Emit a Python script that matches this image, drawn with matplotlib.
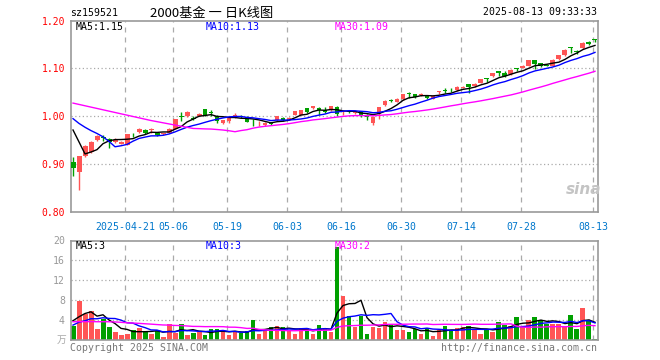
import numpy as np
import pandas as pd
import matplotlib
matplotlib.use('Agg')
import matplotlib.pyplot as plt

# daily candles, 2025-04-08 .. 2025-08-13
opens = [0.905, 0.884, 0.917, 0.926, 0.950, 0.956, 0.953, 0.947, 0.943, 0.940,
         0.961, 0.967, 0.972, 0.971, 0.965, 0.962, 0.965, 0.974, 0.999, 1.000,
         0.996, 1.001, 1.0146, 1.008, 1.000, 0.985, 0.990, 1.000, 1.001, 0.999,
         0.989, 0.985, 0.981, 0.986, 0.992, 0.996, 0.995, 1.0035, 1.0035, 1.0167,
         1.0167, 1.018, 1.0125, 1.0125, 1.019, 1.008, 1.010, 1.007, 1.0104, 1.001,
         0.985, 1.0056, 1.023, 1.034, 1.030, 1.035, 1.048, 1.046, 1.045, 1.042,
         1.037, 1.051, 1.055, 1.055, 1.054, 1.060, 1.067, 1.063, 1.070, 1.079,
         1.084, 1.094, 1.091, 1.0875, 1.099, 1.1015, 1.106, 1.117, 1.111, 1.108,
         1.106, 1.119, 1.127, 1.143, 1.137, 1.142, 1.156, 1.161]
highs = [0.914, 0.918, 0.940, 0.948, 0.961, 0.960, 0.955, 0.954, 0.949, 0.963,
         0.964, 0.976, 0.973, 0.976, 0.967, 0.966, 0.975, 0.995, 1.009, 1.010,
         1.000, 1.007, 1.016, 1.0125, 1.002, 0.993, 0.997, 1.007, 1.003, 1.001,
         0.995, 0.991, 0.987, 0.988, 1.001, 0.998, 0.999, 1.012, 1.014, 1.018,
         1.022, 1.020, 1.020, 1.022, 1.021, 1.014, 1.013, 1.011, 1.012, 1.004,
         1.000, 1.020, 1.033, 1.037, 1.038, 1.047, 1.051, 1.047, 1.048, 1.043,
         1.044, 1.053, 1.058, 1.058, 1.064, 1.064, 1.068, 1.069, 1.078, 1.080,
         1.091, 1.095, 1.095, 1.098, 1.101, 1.107, 1.118, 1.118, 1.112, 1.110,
         1.119, 1.128, 1.140, 1.144, 1.139, 1.155, 1.158, 1.162]
lows = [0.876, 0.846, 0.915, 0.924, 0.949, 0.949, 0.933, 0.944, 0.941, 0.939,
        0.957, 0.966, 0.963, 0.964, 0.958, 0.960, 0.964, 0.973, 0.990, 0.999,
        0.993, 1.000, 1.001, 1.000, 0.985, 0.983, 0.985, 0.996, 0.997, 0.987,
        0.980, 0.980, 0.980, 0.982, 0.991, 0.991, 0.993, 1.002, 1.002, 1.006,
        1.015, 1.002, 1.006, 1.011, 1.000, 1.002, 1.006, 1.005, 0.9986, 0.992,
        0.981, 0.995, 1.022, 1.029, 1.029, 1.034, 1.039, 1.039, 1.042, 1.035,
        1.036, 1.046, 1.048, 1.050, 1.053, 1.058, 1.0486, 1.062, 1.069, 1.071,
        1.083, 1.085, 1.083, 1.086, 1.094, 1.100, 1.104, 1.099, 1.103, 1.105,
        1.105, 1.118, 1.125, 1.133, 1.131, 1.141, 1.149, 1.155]
closes = [0.892, 0.917, 0.9375, 0.946, 0.959, 0.954, 0.947, 0.950, 0.947, 0.962,
          0.960, 0.974, 0.965, 0.972, 0.960, 0.965, 0.974, 0.994, 0.998, 1.009,
          0.995, 1.004, 1.002, 1.007, 0.990, 0.992, 0.996, 1.002, 0.999, 0.988,
          0.987, 0.986, 0.986, 0.984, 1.000, 0.992, 0.997, 1.011, 1.0125, 1.008,
          1.021, 1.0125, 1.008, 1.021, 1.0056, 1.009, 1.008, 1.008, 1.0035, 0.999,
          0.9986, 1.019, 1.032, 1.032, 1.037, 1.046, 1.046, 1.040, 1.046, 1.038,
          1.043, 1.052, 1.053, 1.054, 1.061, 1.061, 1.061, 1.068, 1.077, 1.078,
          1.090, 1.090, 1.084, 1.097, 1.098, 1.106, 1.117, 1.110, 1.104, 1.106,
          1.118, 1.127, 1.139, 1.142, 1.135, 1.1535, 1.150, 1.159]
# volume in 万
volumes = [2.87, 7.87, 5.2, 5.87, 2.2, 4.2, 2.6, 1.67, 1.0, 1.2,
           2.0, 2.47, 1.67, 1.27, 1.87, 0.6, 3.2, 1.47, 3.2, 1.07,
           1.47, 1.67, 1.07, 2.2, 2.2, 1.67, 1.07, 1.67, 1.47, 1.87,
           4.0, 1.27, 2.0, 2.6, 2.8, 2.6, 1.87, 1.27, 2.4, 2.4,
           1.27, 3.0, 2.4, 1.67, 18.7, 8.87, 4.8, 2.67, 4.9, 1.2,
           2.67, 2.5, 3.7, 3.3, 2.07, 2.07, 1.67, 2.2, 1.2, 2.5,
           0.8, 2.0, 2.8, 2.0, 2.5, 2.6, 2.8, 2.2, 1.2, 2.3,
           1.67, 3.67, 3.0, 2.8, 4.6, 2.8, 4.0, 4.6, 4.0, 3.3,
           3.3, 3.3, 2.6, 5.0, 2.2, 6.4, 4.0, 0.2]

# sessions before the window (only feed the moving averages)
prior_close = [1.001, 1.0215, 1.030, 1.043, 1.038, 1.031, 1.034, 1.031, 1.046, 1.044,
               1.058, 1.049, 1.056, 1.031, 1.036, 1.045, 1.065, 1.069, 1.080, 1.066,
               1.017, 1.0175, 1.016, 1.019, 1.024, 1.042, 1.0625, 0.926, 0.934]
prior_vol = [7.0, 5.5, 5.5, 3.0, 4.0, 3.0, 2.5, 3.5, 4.0, 3.5,
             4.5, 4.0, 3.5, 4.5, 3.0, 4.0, 3.5, 4.0, 3.5, 4.0,
             2.0, 2.3, 1.9, 2.2, 2.2, 3.9, 1.9, 4.2, 6.5]

date_idx = [9, 17, 26, 36, 45, 55, 65, 75, 87]
date_labels = ['2025-04-21', '05-06', '05-19', '06-03', '06-16',
               '06-30', '07-14', '07-28', '08-13']

RED = '#ff5555'
GREEN = '#00a000'
GRID = '#aaaaaa'
MONO = 'DejaVu Sans Mono'
FS = 7.1

o = np.array(opens); h = np.array(highs); l = np.array(lows); c = np.array(closes)
v = np.array(volumes)
n = len(c)
x = np.arange(n)
up = c >= o
cols = np.where(up, RED, GREEN)

npri = len(prior_close)
allc = pd.Series(prior_close + closes)
allv = pd.Series(prior_vol + volumes)
ma = {k: allc.rolling(k).mean().values[npri:] for k in (5, 10, 30)}
vma = {k: allv.rolling(k).mean().values[npri:] for k in (5, 10, 30)}

W, H = 660, 360
fig = plt.figure(figsize=(6.6, 3.6), dpi=100)

def rect(x0, y0, x1, y1):
    return [x0 / W, 1 - y1 / H, (x1 - x0) / W, (y1 - y0) / H]

def ftext(px, py, s, **kw):
    fig.text(px / W, 1 - py / H, s, **kw)

ax = fig.add_axes(rect(70.5, 20.5, 597.5, 212))
axv = fig.add_axes(rect(70.5, 240.5, 597.5, 340))
xl = (-0.42, 87.42)

for a in (ax, axv):
    a.set_xlim(*xl)
    for s in a.spines.values():
        s.set_color('#999999')
        s.set_linewidth(1.2)
    for d in date_idx:
        a.axvline(d - 0.33, color=GRID, lw=0.9, ls=(0, (4, 4)), zorder=0)

# price panel
body_lo = np.minimum(o, c)
body_h = np.maximum(np.abs(c - o), 0.0018)
ax.vlines(x, l, h, colors=cols, lw=1.0, zorder=2)
ax.bar(x, body_h, bottom=body_lo, width=0.83, color=cols, linewidth=0, zorder=3)
ax.plot(x, ma[5], color='black', lw=1.0, zorder=4)
ax.plot(x, ma[10], color='#0000ff', lw=1.0, zorder=4)
ax.plot(x, ma[30], color='#ff00ff', lw=1.0, zorder=4)
for yv in (0.9, 1.0, 1.1):
    ax.axhline(yv, color=GRID, lw=0.9, ls=(0, (1, 2)), zorder=0)
ax.set_ylim(0.8, 1.2)
ax.set_yticks([0.8, 0.9, 1.0, 1.1, 1.2])
ax.set_yticklabels(['%.2f' % t for t in [0.8, 0.9, 1.0, 1.1, 1.2]],
                   color='#ff0000', family=MONO, fontsize=7)
ax.set_xticks([d - 0.33 for d in date_idx])
ax.set_xticklabels(date_labels, color='#0077cc', family=MONO, fontsize=FS)
ax.tick_params(length=0, pad=4)
ax.tick_params(axis='x', pad=7)

ax.text(0.01, 0.965, 'MA5:1.15', transform=ax.transAxes, color='black',
        family=MONO, fontsize=FS, va='center')
ax.text(0.256, 0.965, 'MA10:1.13', transform=ax.transAxes, color='#0000ff',
        family=MONO, fontsize=FS, va='center')
ax.text(0.502, 0.965, 'MA30:1.09', transform=ax.transAxes, color='#ff00ff',
        family=MONO, fontsize=FS, va='center')
ax.text(0.974, 0.115, 'sina', transform=ax.transAxes, color='#c4c4c4',
        fontsize=11, fontweight='bold', style='italic', ha='center', va='center')

# volume panel
axv.bar(x, v, width=0.83, color=cols, linewidth=0, zorder=2)
axv.plot(x, vma[5], color='black', lw=1.0, zorder=4)
axv.plot(x, vma[10], color='#0000ff', lw=1.0, zorder=4)
axv.plot(x, vma[30], color='#ff00ff', lw=1.0, zorder=4)
for yv in (4, 8, 12, 16):
    axv.axhline(yv, color=GRID, lw=0.9, ls=(0, (1, 2)), zorder=0)
axv.set_ylim(0, 20)
axv.set_yticks([4, 8, 12, 16, 20])
axv.set_yticklabels(['4', '8', '12', '16', '20'], color='#999999',
                    family=MONO, fontsize=FS)
axv.set_xticks([])
axv.tick_params(length=0, pad=4)

axv.text(0.01, 0.94, 'MA5:3', transform=axv.transAxes, color='black',
         family=MONO, fontsize=FS, va='center')
axv.text(0.256, 0.94, 'MA10:3', transform=axv.transAxes, color='#0000ff',
         family=MONO, fontsize=FS, va='center')
axv.text(0.502, 0.94, 'MA30:2', transform=axv.transAxes, color='#ff00ff',
         family=MONO, fontsize=FS, va='center')

# header and footer
ftext(70, 13, 'sz159521', family=MONO, fontsize=FS, va='center')
ftext(150, 13, '2000基金 一 日K线图', family=['Noto Sans CJK SC', 'DejaVu Sans'],
      fontsize=9.5, va='center')
ftext(597, 12, '2025-08-13 09:33:33', family=MONO, fontsize=FS,
      va='center', ha='right')
ftext(66, 340, '万', family=['Noto Sans CJK SC', 'DejaVu Sans'], fontsize=7,
      color='#aaaaaa', va='center', ha='right')
ftext(70, 348, 'Copyright 2025 SINA.COM', family=MONO, fontsize=FS,
      color='#777777', va='center')
ftext(597, 348, 'http://finance.sina.com.cn', family=MONO, fontsize=FS,
      color='#777777', va='center', ha='right')

fig.savefig('out.png', dpi=100)
